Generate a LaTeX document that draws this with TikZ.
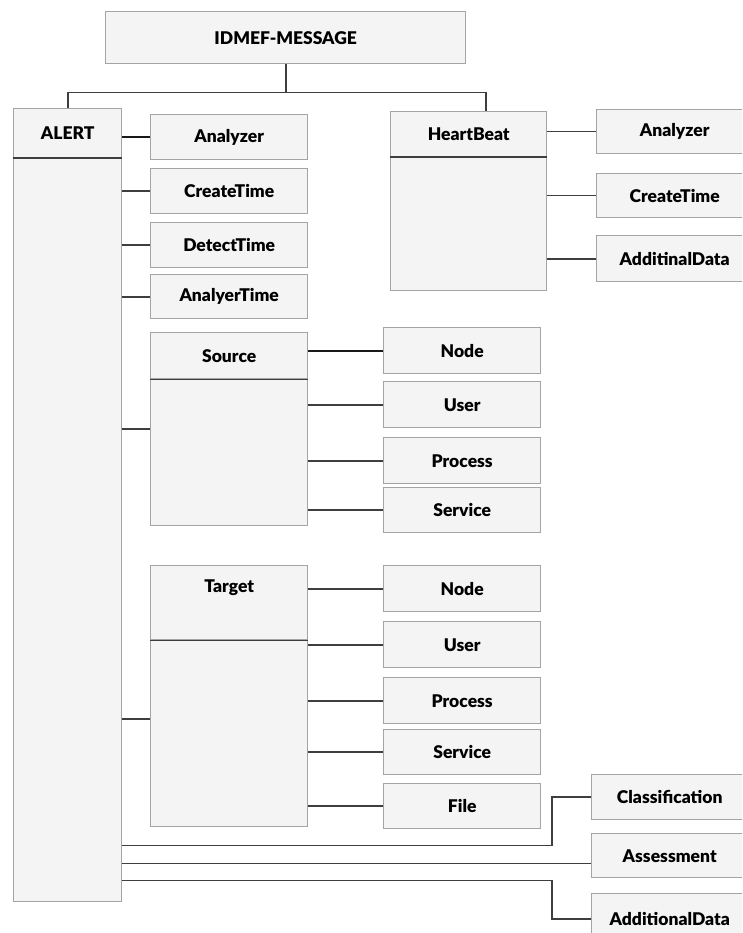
\documentclass[tikz,border=0pt]{standalone}
\usepackage{fontspec}
\setmainfont{Lato}[BoldFont={Lato Black}]
\usetikzlibrary{calc}
\definecolor{boxfill}{HTML}{F4F4F4}
\definecolor{boxline}{HTML}{A4A4A4}
\definecolor{wire}{HTML}{3E3E3E}
\tikzset{
  box/.style={draw=boxline, fill=boxfill, line width=1.4pt, inner sep=0pt,
    font=\fontsize{17.5}{20}\selectfont\bfseries},
  title/.style={font=\fontsize{17.5}{20}\selectfont\bfseries, inner sep=0pt},
  link/.style={draw=wire, line width=1.6pt},
  strong/.style={draw=black!90, line width=2.2pt},
  divider/.style={draw=wire, line width=1.8pt},
}
\begin{document}
\begin{tikzpicture}[x=1pt, y=-1pt]
\useasboundingbox (0,0) rectangle (742,933);
\clip (0,0) rectangle (742,933);

% root
\node[box, anchor=north west, minimum width=360, minimum height=52] (msg) at (105,11) {IDMEF-MESSAGE};

% ALERT compartment box
\node[box, anchor=north west, minimum width=108, minimum height=744] (alertb) at (13,157) {};
\node[box, anchor=north west, minimum width=108, minimum height=49] (alerth) at (13,108) {ALERT};
\draw[divider] (alerth.south west) -- (alerth.south east);

% ALERT simple children
\node[box, anchor=north west, minimum width=157, minimum height=45] (aan) at (150,114) {Analyzer};
\node[box, anchor=north west, minimum width=157, minimum height=45] (act) at (150,168) {CreateTime};
\node[box, anchor=north west, minimum width=157, minimum height=45] (adt) at (150,222) {DetectTime};
\node[box, anchor=north west, minimum width=157, minimum height=44] (aat) at (150,274) {AnalyerTime};

% Source compartment box
\node[box, anchor=north west, minimum width=157, minimum height=147] (srcb) at (150,378) {};
\node[box, anchor=north west, minimum width=157, minimum height=46] (srch) at (150,332) {Source};
\draw[divider] (srch.south west) -- (srch.south east);

\node[box, anchor=north west, minimum width=157, minimum height=46] (snode) at (383,327) {Node};
\node[box, anchor=north west, minimum width=157, minimum height=46] (suser) at (383,381) {User};
\node[box, anchor=north west, minimum width=157, minimum height=46] (sproc) at (383,437) {Process};
\node[box, anchor=north west, minimum width=157, minimum height=45] (sserv) at (383,487) {Service};

% Target compartment box
\node[box, anchor=north west, minimum width=157, minimum height=187] (tgtb) at (150,639) {};
\node[box, anchor=north west, minimum width=157, minimum height=74] (tgth) at (150,565) {};
\node[title] (tgtt) at ($(tgth.north)+(0,23)$) {Target};
\draw[divider] (tgth.south west) -- (tgth.south east);

\node[box, anchor=north west, minimum width=157, minimum height=46] (tnode) at (383,565) {Node};
\node[box, anchor=north west, minimum width=157, minimum height=46] (tuser) at (383,621) {User};
\node[box, anchor=north west, minimum width=157, minimum height=46] (tproc) at (383,677) {Process};
\node[box, anchor=north west, minimum width=157, minimum height=45] (tserv) at (383,729) {Service};
\node[box, anchor=north west, minimum width=157, minimum height=45] (tfile) at (383,783) {File};

% HeartBeat compartment box
\node[box, anchor=north west, minimum width=156, minimum height=134] (hbb) at (390,156) {};
\node[box, anchor=north west, minimum width=156, minimum height=45] (hbh) at (390,111) {HeartBeat};
\draw[divider] (hbh.south west) -- (hbh.south east);

\node[box, anchor=north west, minimum width=156, minimum height=44] (han) at (596,109) {Analyzer};
\node[box, anchor=north west, minimum width=156, minimum height=44] (hct) at (596,173) {CreateTime};
\node[box, anchor=north west, minimum width=156, minimum height=46] (had) at (596,235) {AdditinalData};

% ALERT trailing children
\node[box, anchor=north west, minimum width=156, minimum height=45] (cls) at (591,774) {Classification};
\node[box, anchor=north west, minimum width=156, minimum height=44] (ass) at (591,833) {Assessment};
\node[box, anchor=north west, minimum width=156, minimum height=50] (add) at (591,893) {AdditionalData};

% root fan-out
\coordinate (bus) at ($(msg.south)+(0,28)$);
\coordinate (hbtop) at ($(hbh.north west)!0.609!(hbh.north east)$);
\draw[link] (msg.south) -- (msg.south |- bus);
\draw[link] (alerth.north) -- (alerth.north |- bus) -| (hbtop);

% ALERT links
\draw[strong] (aan.west) -- (aan.west -| alerth.east);
\draw[link] (act.west) -- (act.west -| alertb.east);
\draw[link] (adt.west) -- (adt.west -| alertb.east);
\draw[link] (aat.west) -- (aat.west -| alertb.east);
\coordinate (srcmid) at ($(srch.north west)!0.5!(srcb.south west)$);
\draw[link] (srcmid) -- (srcmid -| alertb.east);
\coordinate (tgtmid) at ($(tgth.north west)!0.586!(tgtb.south west)$);
\draw[link] (tgtmid) -- (tgtmid -| alertb.east);

% Source links
\draw[strong] (snode.west) -- (snode.west -| srch.east);
\draw[link] (suser.west) -- (suser.west -| srcb.east);
\draw[link] (sproc.west) -- (sproc.west -| srcb.east);
\draw[link] (sserv.west) -- (sserv.west -| srcb.east);

% Target links
\draw[link] (tnode.west) -- (tnode.west -| tgth.east);
\draw[link] (tuser.west) -- (tuser.west -| tgtb.east);
\draw[link] (tproc.west) -- (tproc.west -| tgtb.east);
\draw[link] (tserv.west) -- (tserv.west -| tgtb.east);
\draw[link] (tfile.west) -- (tfile.west -| tgtb.east);

% HeartBeat links
\draw[link] (han.west) -- (han.west -| hbh.east);
\draw[link] (hct.west) -- (hct.west -| hbb.east);
\draw[link] (had.west) -- (had.west -| hbb.east);

% trailing ALERT links
\coordinate (clsy) at ($(alertb.south east)+(0,-57)$);
\coordinate (assy) at ($(alertb.south east)+(0,-39)$);
\coordinate (addy) at ($(alertb.south east)+(0,-22)$);
\draw[link] (cls.west) -- ++(-39,0) |- (clsy);
\draw[link] (assy) -- (assy -| ass.west);
\draw[link] (add.west) -- ++(-39,0) |- (addy);
\end{tikzpicture}
\end{document}
